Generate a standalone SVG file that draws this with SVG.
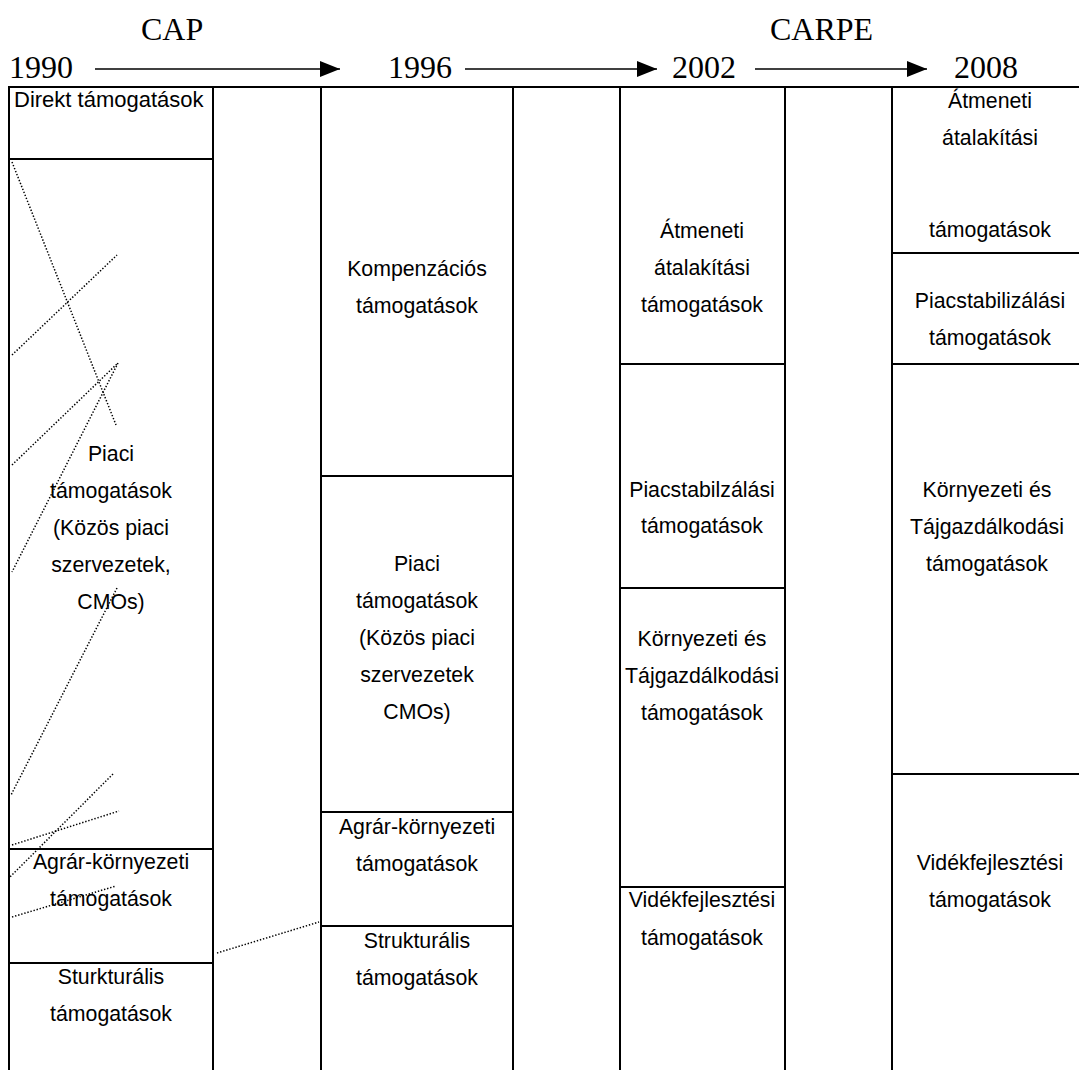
<svg xmlns="http://www.w3.org/2000/svg" width="1079" height="1070" viewBox="0 0 1079 1070">
  <style>
    .cell { fill: none; stroke: #000; stroke-width: 2; }
    .frame { stroke: #000; stroke-width: 2; fill: none; }
    .t { font-family: "Liberation Sans", Arial, sans-serif; font-size: 21.3px; fill: #000; text-anchor: middle; }
    .h { font-family: "Liberation Serif", "Times New Roman", serif; font-size: 32px; fill: #000; }
    .arrow { stroke: #000; stroke-width: 1.5; fill: none; }
    .dot { stroke: #000; stroke-width: 1.5; stroke-dasharray: 1.4 1.8; fill: none; }
  </style>
  <defs>
    <marker id="ah" markerUnits="userSpaceOnUse" markerWidth="20" markerHeight="18" refX="20" refY="9" orient="auto">
      <path d="M0,1 L20,9 L0,17 Z" fill="#000"/>
    </marker>
  </defs>
  <rect width="1079" height="1070" fill="#fff"/>

  <g id="header">
    <text class="h" x="141" y="40">CAP</text>
    <text class="h" x="770" y="40">CARPE</text>
    <text class="h" x="9" y="78">1990</text>
    <text class="h" x="388" y="78">1996</text>
    <text class="h" x="672" y="78">2002</text>
    <text class="h" x="954" y="78">2008</text>
  </g>

  <g id="frame">
    <line class="frame" x1="9" y1="87" x2="1079" y2="87"/>
    <line class="frame" x1="213" y1="87" x2="213" y2="1070"/>
    <line class="frame" x1="321" y1="87" x2="321" y2="1070"/>
    <line class="frame" x1="513" y1="87" x2="513" y2="1070"/>
    <line class="frame" x1="620" y1="87" x2="620" y2="1070"/>
    <line class="frame" x1="785" y1="87" x2="785" y2="1070"/>
    <line class="frame" x1="892" y1="87" x2="892" y2="1070"/>
  </g>

  <g id="c1-direkt">
    <rect class="cell" x="9" y="87" width="204" height="72"/>
    <text class="t" x="14" y="107" style="text-anchor:start;font-size:22px">Direkt támogatások</text>
  </g>
  <g id="c1-piaci">
    <rect class="cell" x="9" y="159" width="204" height="690"/>
    <text class="t" x="111" y="461">Piaci</text>
    <text class="t" x="111" y="498">támogatások</text>
    <text class="t" x="111" y="535">(Közös piaci</text>
    <text class="t" x="111" y="572">szervezetek,</text>
    <text class="t" x="111" y="609">CMOs)</text>
  </g>
  <g id="c1-agrar">
    <rect class="cell" x="9" y="849" width="204" height="114"/>
    <text class="t" x="111" y="869">Agrár-környezeti</text>
    <text class="t" x="111" y="906">támogatások</text>
  </g>
  <g id="c1-struk">
    <rect class="cell" x="9" y="963" width="204" height="120"/>
    <text class="t" x="111" y="984">Sturkturális</text>
    <text class="t" x="111" y="1021">támogatások</text>
  </g>

  <g id="c2-kompenzacios">
    <rect class="cell" x="321" y="87" width="192" height="389"/>
    <text class="t" x="417" y="276">Kompenzációs</text>
    <text class="t" x="417" y="313">támogatások</text>
  </g>
  <g id="c2-piaci">
    <rect class="cell" x="321" y="476" width="192" height="336"/>
    <text class="t" x="417" y="571">Piaci</text>
    <text class="t" x="417" y="608">támogatások</text>
    <text class="t" x="417" y="645">(Közös piaci</text>
    <text class="t" x="417" y="682">szervezetek</text>
    <text class="t" x="417" y="719">CMOs)</text>
  </g>
  <g id="c2-agrar">
    <rect class="cell" x="321" y="812" width="192" height="114"/>
    <text class="t" x="417" y="834">Agrár-környezeti</text>
    <text class="t" x="417" y="871">támogatások</text>
  </g>
  <g id="c2-struk">
    <rect class="cell" x="321" y="926" width="192" height="160"/>
    <text class="t" x="417" y="948">Strukturális</text>
    <text class="t" x="417" y="985">támogatások</text>
  </g>

  <g id="c3-atmeneti">
    <rect class="cell" x="620" y="87" width="165" height="277"/>
    <text class="t" x="702" y="238">Átmeneti</text>
    <text class="t" x="702" y="275">átalakítási</text>
    <text class="t" x="702" y="312">támogatások</text>
  </g>
  <g id="c3-piacstab">
    <rect class="cell" x="620" y="364" width="165" height="224"/>
    <text class="t" x="702" y="497">Piacstabilzálási</text>
    <text class="t" x="702" y="533">támogatások</text>
  </g>
  <g id="c3-kornyezeti">
    <rect class="cell" x="620" y="588" width="165" height="299"/>
    <text class="t" x="702" y="646">Környezeti és</text>
    <text class="t" x="702" y="683">Tájgazdálkodási</text>
    <text class="t" x="702" y="720">támogatások</text>
  </g>
  <g id="c3-videk">
    <rect class="cell" x="620" y="887" width="165" height="200"/>
    <text class="t" x="702" y="907">Vidékfejlesztési</text>
    <text class="t" x="702" y="945">támogatások</text>
  </g>

  <g id="c4-atmeneti">
    <rect class="cell" x="892" y="87" width="200" height="166"/>
    <text class="t" x="990" y="108">Átmeneti</text>
    <text class="t" x="990" y="145">átalakítási</text>
    <text class="t" x="990" y="237">támogatások</text>
  </g>
  <g id="c4-piacstab">
    <rect class="cell" x="892" y="253" width="200" height="111"/>
    <text class="t" x="990" y="308">Piacstabilizálási</text>
    <text class="t" x="990" y="345">támogatások</text>
  </g>
  <g id="c4-kornyezeti">
    <rect class="cell" x="892" y="364" width="200" height="410"/>
    <text class="t" x="987" y="497">Környezeti és</text>
    <text class="t" x="987" y="534">Tájgazdálkodási</text>
    <text class="t" x="987" y="571">támogatások</text>
  </g>
  <g id="c4-videk">
    <rect class="cell" x="892" y="774" width="200" height="310"/>
    <text class="t" x="990" y="870">Vidékfejlesztési</text>
    <text class="t" x="990" y="907">támogatások</text>
  </g>

  <g id="connectors">
    <line class="arrow" x1="95" y1="69" x2="340" y2="69" marker-end="url(#ah)"/>
    <line class="arrow" x1="465" y1="69" x2="657" y2="69" marker-end="url(#ah)"/>
    <line class="arrow" x1="755" y1="69" x2="927" y2="69" marker-end="url(#ah)"/>
    <line class="dot" x1="12" y1="162" x2="116" y2="425"/>
    <line class="dot" x1="12" y1="355" x2="117" y2="255"/>
    <line class="dot" x1="12" y1="465" x2="118" y2="363"/>
    <line class="dot" x1="118" y1="363" x2="12" y2="572"/>
    <line class="dot" x1="117" y1="588" x2="11" y2="795"/>
    <line class="dot" x1="113" y1="774" x2="10" y2="877"/>
    <line class="dot" x1="12" y1="845" x2="119" y2="811"/>
    <line class="dot" x1="12" y1="917" x2="116" y2="886"/>
    <line class="dot" x1="217" y1="953" x2="319" y2="922"/>
  </g>
</svg>
